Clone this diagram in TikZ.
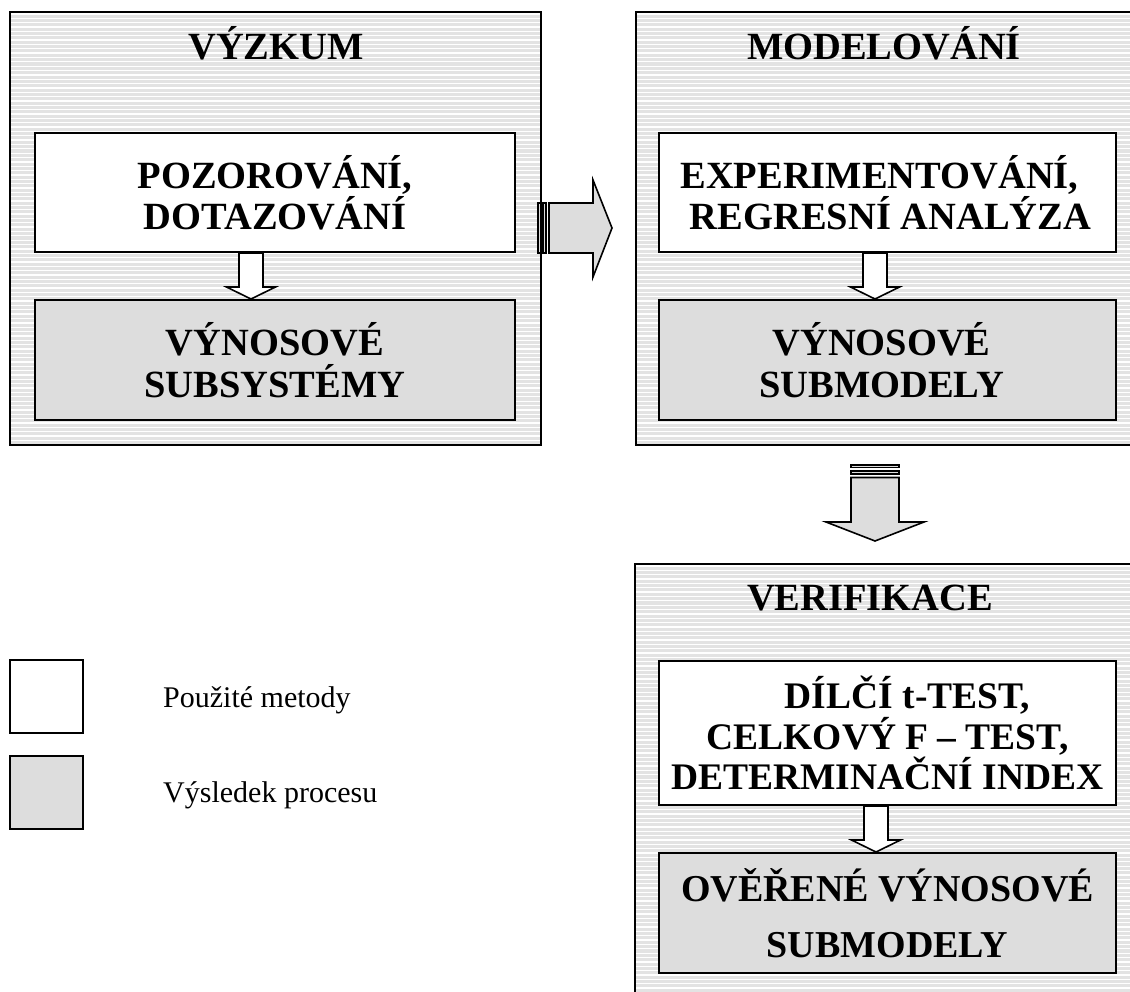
\documentclass[tikz,border=0pt]{standalone}
\usepackage{fontspec}
\setmainfont{Liberation Serif}
\usetikzlibrary{calc}
\definecolor{hatchbg}{HTML}{E3E3E3}
\definecolor{resgrey}{HTML}{DDDDDD}
\definecolor{arrgrey}{HTML}{DDDDDD}
\newcommand\hatchbox[5]{% name, x1, y1, x2, y2
  \fill[hatchbg] (#2,#3) rectangle (#4,#5);
  \begin{scope}
    \clip (#2,#3) rectangle (#4,#5);
    \foreach \i in {0,...,105} {\draw[white,line width=1.3pt] (#2,{#3+2+4.35*\i}) -- (#4,{#3+2+4.35*\i});}
  \end{scope}
  \node[draw=black,line width=2.4pt,inner sep=0pt,minimum width={(#4-#2)*1pt},minimum height={(#5-#3)*1pt}] (#1) at ({(#2+#4)/2},{(#3+#5)/2}) {};
}
\newcommand\downblk[3]{% x, from node, to node
  \draw[smallarr] let \p1=(#2.south), \p2=(#3.north) in
    (#1pt-12pt,\y1) -- (#1pt+12pt,\y1) -- (#1pt+12pt,\y2+12pt) -- (#1pt+24.5pt,\y2+12pt)
    -- (#1pt,\y2) -- (#1pt-24.5pt,\y2+12pt) -- (#1pt-12pt,\y2+12pt) -- cycle;
}
\begin{document}
\begin{tikzpicture}[x=1pt,y=-1pt,
  method/.style={draw=black,line width=2pt,fill=white,inner sep=0pt,align=center,
    font=\fontsize{38.5}{41}\selectfont\bfseries},
  result/.style={draw=black,line width=2pt,fill=resgrey,inner sep=0pt,align=center,
    font=\fontsize{38.5}{42}\selectfont\bfseries},
  title/.style={anchor=base,inner sep=0pt,font=\fontsize{38.5}{42}\selectfont\bfseries},
  legtext/.style={anchor=base west,inner sep=0pt,font=\fontsize{30}{34}\selectfont},
  smallarr/.style={draw=black,line width=1.6pt,fill=white,line join=miter},
  bigarr/.style={draw=black,line width=1.6pt,fill=arrgrey,line join=miter},
  stripe/.style={draw=black,line width=1.3pt,fill=arrgrey}]
\useasboundingbox (0,0) rectangle (1130,992);
\begin{scope}
\clip (0,0) rectangle (1130,992);
% outer hatched boxes
\hatchbox{o1}{10}{12}{541}{445}
\hatchbox{o2}{636}{12}{1150}{445}
\hatchbox{o3}{635}{564}{1150}{1010}
% titles
\node[title] (t1) at (276,60) {VÝZKUM};
\node[title] (t2) at (884,60) {MODELOVÁNÍ};
\node[title] (t3) at (870,610) {VERIFIKACE};
% inner boxes
\node[method,minimum width=480pt,minimum height=119pt] (m1) at (275,192.5) {POZOROVÁNÍ,\\DOTAZOVÁNÍ};
\node[result,minimum width=480pt,minimum height=120pt] (r1) at (275,360) {VÝNOSOVÉ\\SUBSYSTÉMY};
\node[method,minimum width=457pt,minimum height=119pt] (m2) at (887.5,192.5) {\hspace*{-16pt}EXPERIMENTOVÁNÍ,\\\hspace*{6pt}REGRESNÍ ANALÝZA};
\node[result,minimum width=457pt,minimum height=120pt] (r2) at (887.5,360) {\hspace*{-12pt}VÝNOSOVÉ\\\hspace*{-12pt}SUBMODELY};
\node[method,minimum width=457pt,minimum height=144pt,font=\fontsize{37.5}{40.5}\selectfont\bfseries] (m3) at (887.5,733) {\hspace*{40pt}DÍLČÍ t-TEST,\\CELKOVÝ F – TEST,\\DETERMINAČNÍ INDEX};
\node[result,minimum width=457pt,minimum height=120pt,font=\fontsize{38}{56}\selectfont\bfseries] (r3) at (887.5,913) {OVĚŘENÉ VÝNOSOVÉ\\SUBMODELY};
% small arrows
\downblk{251}{m1}{r1}
\downblk{875}{m2}{r2}
\downblk{876}{m3}{r3}
% big right arrow
\draw[stripe] (538,203) rectangle (540.5,253);
\draw[stripe] (543,203) rectangle (546,253);
\draw[bigarr] (549,203) -- (593,203) -- (593,180) -- (612,228) -- (593,277) -- (593,253) -- (549,253) -- cycle;
% big down arrow
\draw[stripe] (851,465) rectangle (899,467.5);
\draw[stripe] (851,471) rectangle (899,474);
\draw[bigarr] (851,477.5) -- (899,477.5) -- (899,522) -- (924,522) -- (875,541) -- (826,522) -- (851,522) -- cycle;
% legend
\node[draw=black,line width=2.4pt,fill=white,minimum width=73pt,minimum height=73pt,inner sep=0pt] (lm) at (46.5,696.5) {};
\node[draw=black,line width=2.4pt,fill=resgrey,minimum width=73pt,minimum height=73pt,inner sep=0pt] (lr) at (46.5,792.5) {};
\node[legtext] (lmt) at (163,707) {Použité metody};
\node[legtext] (lrt) at (163,802) {Výsledek procesu};
\end{scope}
\end{tikzpicture}
\end{document}
